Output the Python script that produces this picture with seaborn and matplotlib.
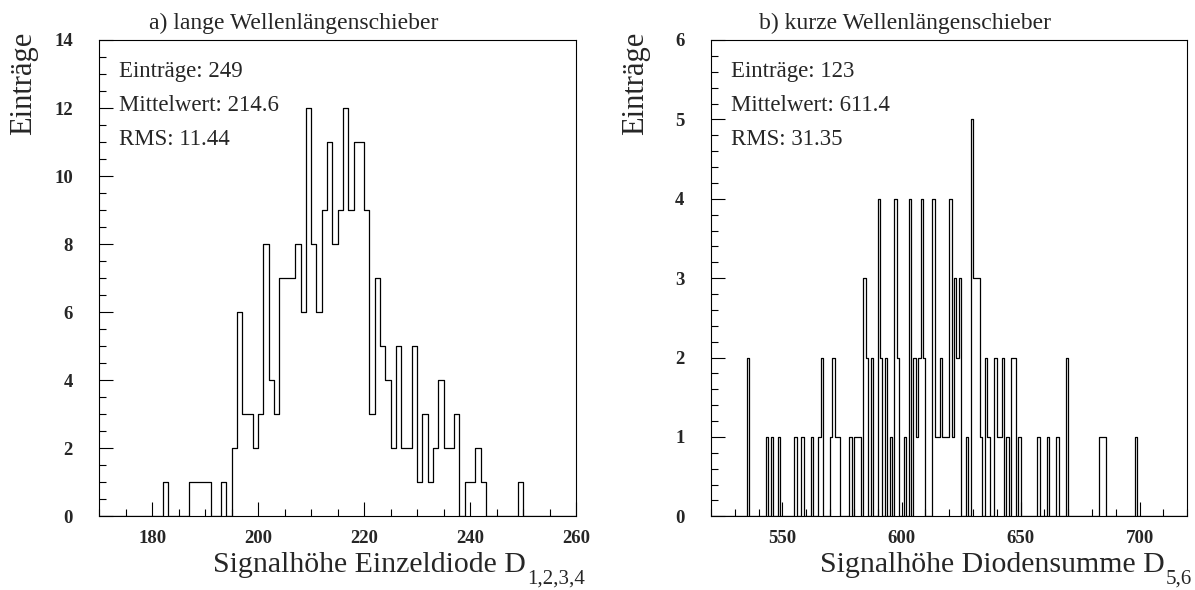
import numpy as np
import pandas as pd
import matplotlib
matplotlib.use("Agg")
import matplotlib.pyplot as plt
from matplotlib.ticker import MultipleLocator
import seaborn as sns

# a) long wavelength shifters: signal height of a single diode (bins of width 1)
long_signal = [182, 187, 188, 189, 190, 193,
               195, 196, 197, 198, 199, 200, 201, 202, 203, 204, 205, 206,
               207, 208, 209, 210, 211, 212, 213, 214, 215, 216, 217, 218,
               219, 220, 221, 222, 223, 224, 225, 226, 227, 228, 229, 230,
               231, 232, 233, 234, 235, 236, 237,
               239, 240, 241, 242, 249]
long_counts = [1, 1, 1, 1, 1, 1,
               2, 6, 3, 3, 2, 3, 8, 4, 3, 7, 7, 7,
               8, 6, 12, 8, 6, 9, 11, 8, 9, 12, 9, 11,
               11, 9, 3, 7, 5, 4, 2, 5, 2, 2, 5, 1,
               3, 1, 2, 4, 2, 2, 3,
               1, 1, 2, 1, 1]

# b) short wavelength shifters: signal height of the diode sum (bins of width 1)
short_signal = [535, 543, 545, 548, 555, 558, 562, 565, 566, 570,
                571, 572, 573, 578, 580, 581, 582, 584, 585, 587,
                590, 591, 593, 595, 597, 598, 601, 603, 605, 606,
                607, 608, 609, 613, 614, 615, 616, 617, 618, 619,
                620, 621, 622, 623, 624, 627, 629, 630, 631, 632,
                633, 635, 636, 639, 640, 641, 642, 644, 646, 647,
                649, 657, 661, 665, 669, 683, 684, 685, 698]
short_counts = [2, 1, 1, 1, 1, 1, 1, 1, 2, 1,
                2, 1, 1, 1, 1, 1, 1, 3, 2, 2,
                4, 2, 2, 1, 4, 2, 1, 4, 2, 1,
                2, 4, 2, 4, 1, 1, 2, 1, 1, 1,
                4, 1, 3, 2, 3, 1, 5, 3, 3, 3,
                1, 2, 1, 2, 1, 1, 2, 1, 2, 2,
                1, 1, 1, 1, 2, 1, 1, 1, 1]

titles = ["a) lange Wellenlängenschieber", "b) kurze Wellenlängenschieber"]
xtitles = ["Signalhöhe Einzeldiode D", "Signalhöhe Diodensumme D"]
xtitle_subs = ["1,2,3,4", "5,6"]
ylabel = "Einträge"
long_stats = ["Einträge: 249", "Mittelwert: 214.6", "RMS: 11.44"]
short_stats = ["Einträge: 123", "Mittelwert: 611.4", "RMS: 31.35"]
long_xticks = [180, 200, 220, 240, 260]
long_yticks = [0, 2, 4, 6, 8, 10, 12, 14]
short_xticks = [550, 600, 650, 700]
short_yticks = [0, 1, 2, 3, 4, 5, 6]

sns.set_theme(style="white")
plt.rcParams["font.family"] = ["Liberation Serif", "DejaVu Serif"]

W, H = 1195, 590
fig = plt.figure(figsize=(W / 100, H / 100), dpi=100)
fig.patch.set_facecolor("white")
renderer = fig.canvas.get_renderer()

bottom = 1 - 516.3 / H
height = 476.3 / H
ax1 = fig.add_axes([99.3 / W, bottom, 476.7 / W, height])
ax2 = fig.add_axes([711.0 / W, bottom, 476.3 / W, height])

panels = [
    (ax1, long_signal, long_counts, (170, 260), (0, 14), long_xticks,
     long_yticks, 5, 0.5, long_stats, titles[0], xtitles[0], xtitle_subs[0],
     294, 585),
    (ax2, short_signal, short_counts, (520, 720), (0, 6), short_xticks,
     short_yticks, 10, 0.2, short_stats, titles[1], xtitles[1],
     xtitle_subs[1], 905, 1192),
]

for (ax, sig, cnt, xl, yl, xt, yt, xmin, ymin, stats, title, xtitle,
     xsub, tx, sub_right) in panels:
    hist_df = pd.DataFrame({"signal": sig, "entries": cnt})
    sns.histplot(data=hist_df, x="signal", weights="entries", binwidth=1,
                 binrange=xl, element="step", fill=False, color="black",
                 linewidth=0.9, ax=ax)
    ax.set_facecolor("white")
    ax.set_xlim(*xl)
    ax.set_ylim(*yl)
    ax.set_xticks(xt, [str(v) for v in xt], fontweight="bold", fontsize=13.5)
    ax.set_yticks(yt, [str(v) for v in yt], fontweight="bold", fontsize=13.5)
    ax.xaxis.set_minor_locator(MultipleLocator(xmin))
    ax.yaxis.set_minor_locator(MultipleLocator(ymin))
    ax.tick_params(which="both", direction="in", top=False, right=False,
                   bottom=True, left=True, color="black", width=0.8)
    ax.tick_params(which="major", length=10)
    ax.tick_params(which="minor", length=5)
    ax.tick_params(axis="x", which="major", pad=10)
    ax.tick_params(axis="y", which="major", pad=19)
    for side in ax.spines.values():
        side.set_color("black")
        side.set_linewidth(0.8)
        side.set_visible(True)
    ax.set_xlabel("")
    ax.set_ylabel("")
    ax.grid(False)

    for i, line in enumerate(stats):
        ax.text(0.042, 0.923 - i * 0.0714, line, transform=ax.transAxes,
                ha="left", va="baseline", fontsize=16.5)

    # axis title with lowered index, flush with the end of the axis
    sub = fig.text(sub_right / W, 1 - 584 / H, xsub, ha="right",
                   va="baseline", fontsize=15)
    sub_box = sub.get_window_extent(renderer)
    fig.text((sub_box.x0 - 1) / W, 1 - 572 / H, xtitle, ha="right",
             va="baseline", fontsize=21.5)

    ax.text(-0.159, 1.0175, ylabel, transform=ax.transAxes, rotation=90,
            ha="center", va="top", fontsize=22)
    fig.text(tx / W, 1 - 29 / H, title, ha="center", va="baseline",
             fontsize=17)

fig.savefig("out.png", dpi=100, facecolor="white")
